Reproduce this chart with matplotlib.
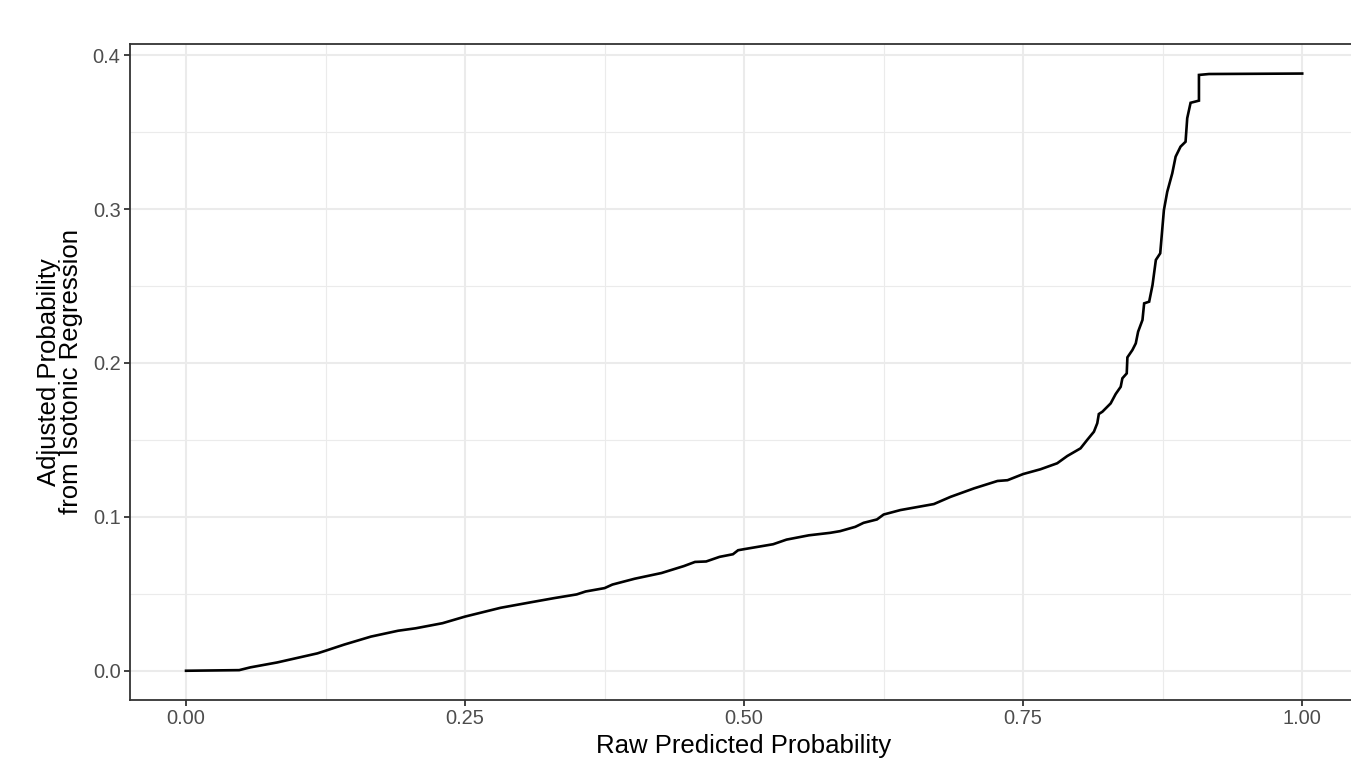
import numpy as np
import matplotlib
matplotlib.use("Agg")
import matplotlib.pyplot as plt
from matplotlib.ticker import MultipleLocator

plt.rcParams['font.family'] = ['Liberation Sans', 'DejaVu Sans']

# calibration curve (raw -> isotonic adjusted)
raw_prob = [0.0, 0.0476, 0.0576, 0.0817, 0.1177, 0.125, 0.1417, 0.1657, 0.19,
            0.2058, 0.2298, 0.25, 0.2818, 0.3098, 0.3299, 0.35, 0.358, 0.375,
            0.382, 0.402, 0.426, 0.446, 0.456, 0.466, 0.478, 0.49, 0.4946, 0.5,
            0.526, 0.538, 0.558, 0.577, 0.586, 0.5996, 0.607, 0.619, 0.625,
            0.640, 0.670, 0.685, 0.706, 0.727, 0.736, 0.75, 0.7655, 0.7805,
            0.7895, 0.8014, 0.8074, 0.8134, 0.8164, 0.8178, 0.821, 0.8284,
            0.8329, 0.8374, 0.8389, 0.8428, 0.8434, 0.8479, 0.8509, 0.853,
            0.8569, 0.8584, 0.8629, 0.8659, 0.8689, 0.8728, 0.8761, 0.8791,
            0.8836, 0.8866, 0.891, 0.8955, 0.897, 0.900, 0.9075, 0.9075,
            0.9165, 1.0]
adj_prob = [0.0, 0.0004, 0.0022, 0.0054, 0.0113, 0.013, 0.017, 0.0222, 0.026,
            0.0276, 0.0309, 0.0352, 0.0409, 0.0446, 0.0472, 0.0496, 0.0515,
            0.0537, 0.056, 0.0598, 0.0635, 0.068, 0.0707, 0.071, 0.074, 0.0757,
            0.0783, 0.079, 0.0822, 0.0852, 0.088, 0.0896, 0.0907, 0.0935,
            0.0961, 0.0983, 0.1015, 0.1044, 0.1083, 0.113, 0.1185, 0.1233,
            0.1238, 0.1278, 0.1309, 0.1348, 0.1395, 0.1445, 0.15, 0.1553,
            0.1608, 0.1668, 0.1683, 0.1737, 0.1798, 0.1845, 0.19, 0.1932,
            0.2036, 0.2084, 0.2127, 0.2203, 0.2279, 0.2387, 0.2398, 0.2506,
            0.2669, 0.2712, 0.2993, 0.3112, 0.3232, 0.334, 0.3405, 0.3437,
            0.359, 0.369, 0.3704, 0.3871, 0.3877, 0.388]

x_ticks = [0.0, 0.25, 0.5, 0.75, 1.0]
x_labels = ['0.00', '0.25', '0.50', '0.75', '1.00']
y_ticks = [0.0, 0.1, 0.2, 0.3, 0.4]
y_labels = ['0.0', '0.1', '0.2', '0.3', '0.4']

fig = plt.figure(figsize=(13.51, 7.75), dpi=100)
ax = fig.add_axes([130 / 1351, 75 / 775, 1228 / 1351, 656 / 775])

ax.plot(raw_prob, adj_prob, color='black', lw=1.9, solid_joinstyle='miter')

ax.set_xlim(-0.0502, 1.050)
ax.set_ylim(-0.019, 0.4072)
ax.set_xticks(x_ticks)
ax.set_xticklabels(x_labels)
ax.set_yticks(y_ticks)
ax.set_yticklabels(y_labels)
ax.xaxis.set_minor_locator(MultipleLocator(0.125))
ax.yaxis.set_minor_locator(MultipleLocator(0.05))

ax.grid(which='major', color='#EBEBEB', lw=1.5)
ax.grid(which='minor', color='#EBEBEB', lw=0.8)
ax.set_axisbelow(True)

for s in ax.spines.values():
    s.set_color('#333333')
    s.set_linewidth(1.3)

ax.tick_params(which='major', length=4.3, width=1.3, color='#333333',
               labelcolor='#4D4D4D', labelsize=14.4, pad=2.5)
ax.tick_params(which='minor', length=0)

ax.set_xlabel('Raw Predicted Probability', fontsize=18.5, labelpad=4)
ax.set_ylabel('Adjusted Probability\nfrom Isotonic Regression', fontsize=18.5,
              labelpad=7, linespacing=0.9, multialignment='center')

fig.savefig('out.png', dpi=100)
